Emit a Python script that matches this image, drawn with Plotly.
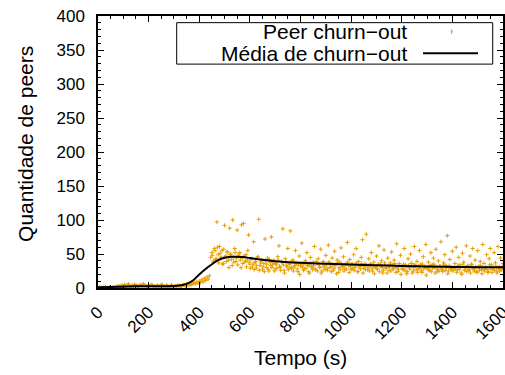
import plotly.graph_objects as go

# ---------------- data ----------------
# main sample of peer churn-out (one reading every 5 s, 0..1600 s)
time_a = list(range(0, 1601, 5))
churn_a = (
    # 0..85
    [0, 1, 0, 0, 1, 0, 1, 0, 0, 1, 1, 0, 1, 0, 1, 2, 3, 2]
    # 90..325
    + [3, 4, 2, 5, 3, 4, 6, 3, 2, 4, 3, 5, 4, 3, 2, 4,
       5, 3, 6, 4, 3, 2, 4, 3, 5, 4, 3, 2, 3, 4, 2, 3,
       5, 4, 3, 2, 4, 3, 2, 3, 4, 3, 2, 3, 2, 4, 3, 2]
    # 330..440
    + [3, 4, 5, 3, 6, 5, 4, 7, 5, 6, 8, 6, 9, 7, 10, 8, 12, 9, 14, 11, 16, 13, 18]
    # 445..600
    + [45, 52, 38, 58, 42, 97, 49, 61, 44, 55, 36, 92, 47, 53, 41, 88,
       50, 33, 45, 58, 39, 85, 47, 52, 30, 44, 95, 38, 49, 41, 78, 35]
    # 605..1600
    + [42, 31, 68, 37, 29, 45, 101, 33, 40, 27,
       36, 72, 30, 44, 25, 38, 75, 34, 41, 28,
       35, 46, 62, 30, 39, 87, 26, 43, 33, 58,
       37, 84, 29, 41, 31, 55, 36, 24, 47, 32,
       66, 34, 28, 40, 52, 33, 22, 45, 30, 38,
       61, 27, 36, 43, 31, 57, 25, 39, 34, 48,
       29, 63, 37, 32, 44, 26, 54, 35, 41, 23,
       38, 59, 31, 46, 28, 36, 67, 33, 42, 27,
       35, 49, 30, 58, 24, 39, 32, 45, 71, 29,
       36, 79, 27, 43, 33, 52, 25, 38, 31, 47,
       28, 62, 35, 40, 22, 56, 33, 30, 44, 26,
       37, 53, 29, 41, 31, 65, 24, 36, 48, 32,
       27, 58, 34, 21, 43, 30, 50, 36, 25, 61,
       33, 39, 28, 55, 35, 23, 46, 31, 64, 29,
       38, 26, 52, 34, 44, 30, 57, 24, 40, 32,
       68, 28, 37, 49, 33, 77, 25, 42, 31, 54,
       29, 36, 60, 27, 45, 34, 22, 51, 38, 30,
       62, 33, 26, 47, 35, 58, 28, 41, 24, 55,
       32, 39, 27, 64, 36, 30, 49, 23, 43, 58,
       34, 28, 52, 37, 25, 61, 31, 44, 27, 36]
)

# second interleaved sample (452..1597 s)
time_b = list(range(452, 1600, 5))
churn_b = [
    48, 40, 55, 43, 60, 37, 51, 45, 35, 57,
    46, 39, 53, 30, 49, 42, 100, 38, 52, 44,
    34, 50, 41, 93, 36, 47, 40, 31, 55, 38,
    29, 43, 35, 27, 39, 33, 46, 26, 37, 41,
    31, 24, 40, 35, 28, 42, 33, 30, 37, 25,
    36, 29, 41, 32, 26, 38, 34, 22, 39, 31,
    27, 35, 30, 40, 25, 33, 37, 28, 34, 20,
    36, 31, 26, 38, 29, 34, 24, 37, 32, 27,
    33, 28, 39, 25, 35, 30, 22, 36, 31, 27,
    34, 26, 38, 30, 24, 35, 29, 33, 21, 37,
    30, 27, 36, 32, 25, 34, 28, 38, 23, 31,
    35, 29, 26, 33, 37, 24, 31, 28, 36, 22,
    32, 27, 34, 30, 25, 36, 29, 33, 21, 31,
    28, 35, 24, 32, 30, 26, 37, 29, 22, 33,
    31, 25, 34, 28, 36, 23, 30, 27, 33, 20,
    29, 35, 26, 31, 24, 33, 28, 36, 22, 30,
    34, 27, 23, 32, 29, 25, 35, 28, 31, 19,
    30, 26, 33, 24, 29, 35, 22, 31, 27, 25,
    32, 28, 24, 34, 26, 30, 21, 33, 29, 27,
    25, 31, 28, 23, 33, 27, 30, 20, 35, 26,
    29, 24, 32, 27, 22, 34, 28, 25, 31, 23,
    30, 26, 33, 21, 28, 25, 31, 27, 24, 34,
    28, 23, 30, 26, 32, 22, 29, 25, 27, 31,
]

# moving average of churn-out
mean_t = [0, 50, 100, 150, 200, 250, 300, 325, 350, 375, 400, 425, 450, 475,
          500, 525, 550, 575, 600, 650, 700, 750, 800, 900, 1000, 1100, 1200,
          1300, 1400, 1500, 1600]
mean_v = [1, 1.5, 2, 2.5, 2.5, 2.5, 3, 4, 6, 11, 20, 28, 35, 41,
          44.5, 46, 46, 45.5, 44, 41.5, 39.5, 38, 37, 35.5, 34.5, 33.5, 32.5,
          31.5, 31, 30.5, 30.5]

x_ticks = [0, 200, 400, 600, 800, 1000, 1200, 1400, 1600]
y_ticks = [0, 50, 100, 150, 200, 250, 300, 350, 400]

ORANGE = "#E69F00"
FONT = "Liberation Sans, Arial, Helvetica, sans-serif"

pts_a = list(zip(time_a, churn_a))
pts_b = list(zip(time_b, churn_b))
px = [p[0] for p in pts_a] + [p[0] for p in pts_b]
py = [p[1] for p in pts_a] + [p[1] for p in pts_b]

fig = go.Figure()
fig.add_trace(go.Scatter(
    x=px, y=py, mode="markers", name="Peer churn\u2212out",
    marker=dict(symbol="cross-thin", size=3, color=ORANGE,
                line=dict(color=ORANGE, width=1)),
    showlegend=False,
))
fig.add_trace(go.Scatter(
    x=mean_t, y=mean_v, mode="lines", name="M\u00e9dia de churn\u2212out",
    line=dict(color="black", width=2, shape="spline", smoothing=1.0),
    showlegend=False,
))

axis_common = dict(
    showgrid=False, zeroline=False, showline=True, linecolor="black",
    linewidth=1.5, mirror="allticks", ticks="inside", ticklen=6,
    tickcolor="black", tickwidth=1, automargin=False,
    tickfont=dict(family=FONT, size=17, color="black"),
)

fig.update_xaxes(range=[0, 1600], tickvals=x_ticks,
                 ticktext=[str(v) for v in x_ticks], tickangle=-45,
                 ticklabelstandoff=6, ticklabeloverflow="allow",
                 minor=dict(ticks="inside", ticklen=3, dtick=50, tick0=0,
                            tickcolor="black"),
                 **axis_common)
fig.update_yaxes(range=[0, 400], tickvals=y_ticks,
                 ticktext=[str(v) for v in y_ticks],
                 ticklabelstandoff=8,
                 minor=dict(ticks="inside", ticklen=3, dtick=10, tick0=0,
                            tickcolor="black"),
                 **axis_common)

# legend drawn as box with right-aligned labels and samples on the right
shapes = [
    dict(type="rect", xref="paper", yref="paper", x0=0.1943, x1=0.9746,
         y0=0.8231, y1=0.9755, line=dict(color="black", width=1),
         fillcolor="white", layer="above"),
    dict(type="line", xref="paper", yref="paper", x0=0.8025, x1=0.9383,
         y0=0.8626, y1=0.8626, line=dict(color="black", width=2),
         layer="above"),
    dict(type="line", xref="paper", yref="paper", x0=0.8708, x1=0.8758,
         y0=0.9425, y1=0.9425, line=dict(color=ORANGE, width=1), layer="above"),
    dict(type="line", xref="paper", yref="paper", x0=0.8733, x1=0.8733,
         y0=0.9333, y1=0.9517, line=dict(color=ORANGE, width=1), layer="above"),
]

annotations = [
    dict(text="Peer churn\u2212out", xref="paper", yref="paper", x=0.7686,
         y=0.9425, xanchor="right", yanchor="middle", showarrow=False,
         font=dict(family=FONT, size=21, color="black")),
    dict(text="M\u00e9dia de churn\u2212out", xref="paper", yref="paper",
         x=0.7686, y=0.8626, xanchor="right", yanchor="middle",
         showarrow=False, font=dict(family=FONT, size=21, color="black")),
    dict(text="Quantidade de peers", xref="paper", yref="paper", x=-0.179,
         y=0.528, xanchor="center", yanchor="middle", textangle=-90,
         showarrow=False, font=dict(family=FONT, size=21, color="black")),
    dict(text="Tempo (s)", xref="paper", yref="paper", x=0.5, y=-0.256,
         xanchor="center", yanchor="middle", showarrow=False,
         font=dict(family=FONT, size=21, color="black")),
]

fig.update_layout(
    width=505, height=375,
    margin=dict(l=98, r=2, t=16, b=87, pad=0, autoexpand=False),
    paper_bgcolor="white", plot_bgcolor="white",
    shapes=shapes, annotations=annotations, showlegend=False,
    font=dict(family=FONT, color="black"),
)

fig.write_html("out.html")
